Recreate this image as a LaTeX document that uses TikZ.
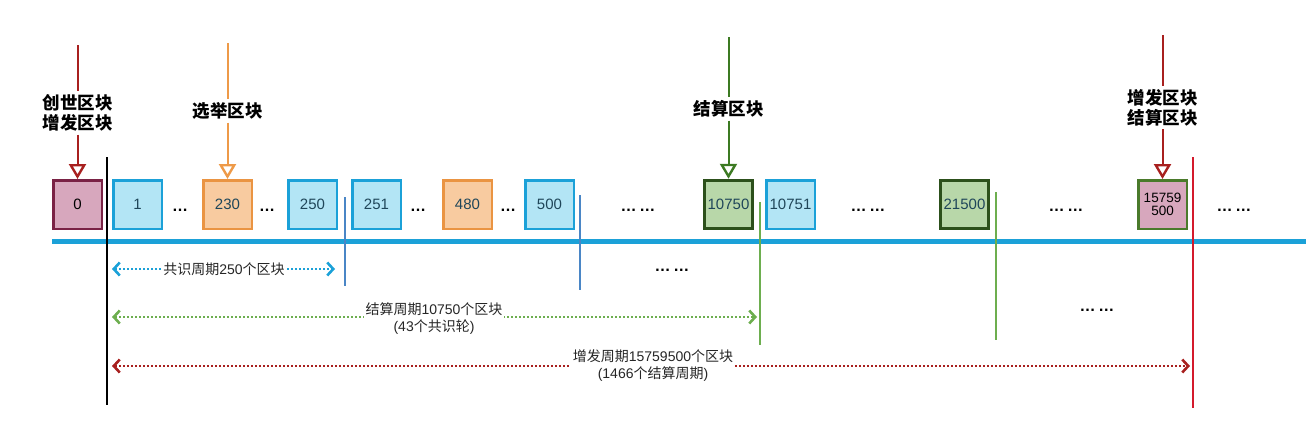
\documentclass[tikz,border=0pt]{standalone}
\usepackage{fontspec}
\setmainfont{Liberation Sans}
\newfontfamily\zh{Noto Sans CJK SC}
\usetikzlibrary{arrows.meta,positioning}

\definecolor{barblue}{HTML}{1BA1D8}
\definecolor{cellblue}{HTML}{B3E5F5}
\definecolor{cellorange}{HTML}{F8CBA0}
\definecolor{edgeorange}{HTML}{EA9442}
\definecolor{cellgreen}{HTML}{B8D7A9}
\definecolor{edgegreen}{HTML}{2C501B}
\definecolor{edgegreenb}{HTML}{4A7A2B}
\definecolor{cellpink}{HTML}{D7A7BD}
\definecolor{edgepink}{HTML}{7A2245}
\definecolor{numtext}{HTML}{1F4659}
\definecolor{darkred}{HTML}{A8201F}
\definecolor{brightred}{HTML}{D41A2C}
\definecolor{arroworange}{HTML}{EE9A48}
\definecolor{arrowgreen}{HTML}{3C7A22}
\definecolor{tickblue}{HTML}{4A86C6}
\definecolor{tickgreen}{HTML}{6DAE4F}

\begin{document}
\begin{tikzpicture}[
x=1pt,y=-1pt,
>={Straight Barb[length=6pt,width=13pt,line width=2.6pt]},
blk/.style={
	draw,
	line width=2.5pt,
	minimum size=48.5pt,
	inner sep=0pt,
	align=center,
	text=numtext,
	font=\fontsize{15}{15}\selectfont
},
blkblue/.style={blk,fill=cellblue,draw=barblue},
blkorange/.style={blk,fill=cellorange,draw=edgeorange},
blkgreen/.style={blk,fill=cellgreen,draw=edgegreen,line width=3pt},
blkpink/.style={blk,fill=cellpink,draw=edgepink,text=black},
dots/.style={
	inner sep=0pt,
	font=\bfseries\fontsize{16}{16}\selectfont
},
toplab/.style={
	align=center,
	inner sep=3pt,
	font=\zh\bfseries\fontsize{17.5}{20}\selectfont
},
pointer/.style={
	line width=2pt
},
tip/.style={
	-{Triangle[open,length=15pt,width=17pt,line width=2.4pt,fill=white]}
},
sep/.style={
	line width=2pt
},
span/.style={
	<->,
	line width=2pt,
	dash pattern=on 2pt off 2pt
},
spanlab/.style={
	fill=white,
	inner sep=1.5pt,
	align=center,
	text=black!85,
	font=\fontsize{14}{17}\selectfont
}
]
\useasboundingbox (0,0) rectangle (1306,423);

% time line
\draw[barblue,line width=5pt] (52,241) -- (1306,241);

% blocks
\node[blkpink] (b0) at (77.5,204.5) {0};
\foreach \x/\n in {137.5/1,312.5/250,376.5/251,549.5/500,790.5/10751}
\node[blkblue] (b\n) at (\x,204.5) {\n};
\foreach \x/\n in {227.5/230,467.5/480}
\node[blkorange] (b\n) at (\x,204.5) {\n};
\foreach \x/\n in {728.5/10750,964.5/21500}
\node[blkgreen] (b\n) at (\x,204.5) {\n};
\node[blkpink,draw=edgegreenb,font=\fontsize{13.5}{13.5}\selectfont] (b15759500) at (1162.5,204.5) {15759\\500};

\foreach \x in {180,267,418,508}
\node[dots] (d\x) at (\x,210) {…};
\foreach \x/\y in {638/210,868/210,1066/210,1234/210,672/270,1097/310}
\node[dots] (dd\x) at (\x,\y) {…\,…};

% period borders
\draw[sep,black] (107,157) -- (107,405);
\draw[sep,tickblue] (345,197) -- (345,286);
\draw[sep,tickblue] (580,195) -- (580,290);
\draw[sep,tickgreen] (760,202) -- (760,345);
\draw[sep,tickgreen] (996,192) -- (996,340);
\draw[sep,brightred,line width=2.5pt] (1193,157) -- (1193,408);

% special blocks
\coordinate (t0) at (77.5,45);
\node[toplab] (l0) at (77.5,113) {创世区块\\增发区块};
\draw[pointer,darkred] (t0) -- (l0);
\draw[pointer,tip,darkred] (l0) -- (b0);

\coordinate (t230) at (227.5,43);
\node[toplab] (l230) at (227.5,111) {选举区块};
\draw[pointer,arroworange] (t230) -- (l230);
\draw[pointer,tip,arroworange] (l230) -- (b230);

\coordinate (t10750) at (728.5,37);
\node[toplab] (l10750) at (728.5,109) {结算区块};
\draw[pointer,arrowgreen] (t10750) -- (l10750);
\draw[pointer,tip,arrowgreen] (l10750) -- (b10750);

\coordinate (t15759500) at (1162.5,35);
\node[toplab] (l15759500) at (1162.5,107.5) {增发区块\\结算区块};
\draw[pointer,darkred] (t15759500) -- (l15759500);
\draw[pointer,tip,darkred] (l15759500) -- (b15759500);

% periods
\coordinate (s1a) at (112,269);
\coordinate (s1b) at (335,269);
\draw[span,barblue] (s1a) -- (s1b);
\node[spanlab] (p1) at (224,269) {{\zh 共识周期}250{\zh 个区块}};

\coordinate (s2a) at (112,317);
\coordinate (s2b) at (757,317);
\draw[span,tickgreen] (s2a) -- (s2b);
\node[spanlab] (p2) at (434,318.5) {{\zh 结算周期}10750{\zh 个区块}\\(43{\zh 个共识轮})};

\coordinate (s3a) at (112,366);
\coordinate (s3b) at (1190,366);
\draw[span,darkred] (s3a) -- (s3b);
\node[spanlab] (p3) at (653,366) {{\zh 增发周期}15759500{\zh 个区块}\\(1466{\zh 个结算周期})};
\end{tikzpicture}
\end{document}
